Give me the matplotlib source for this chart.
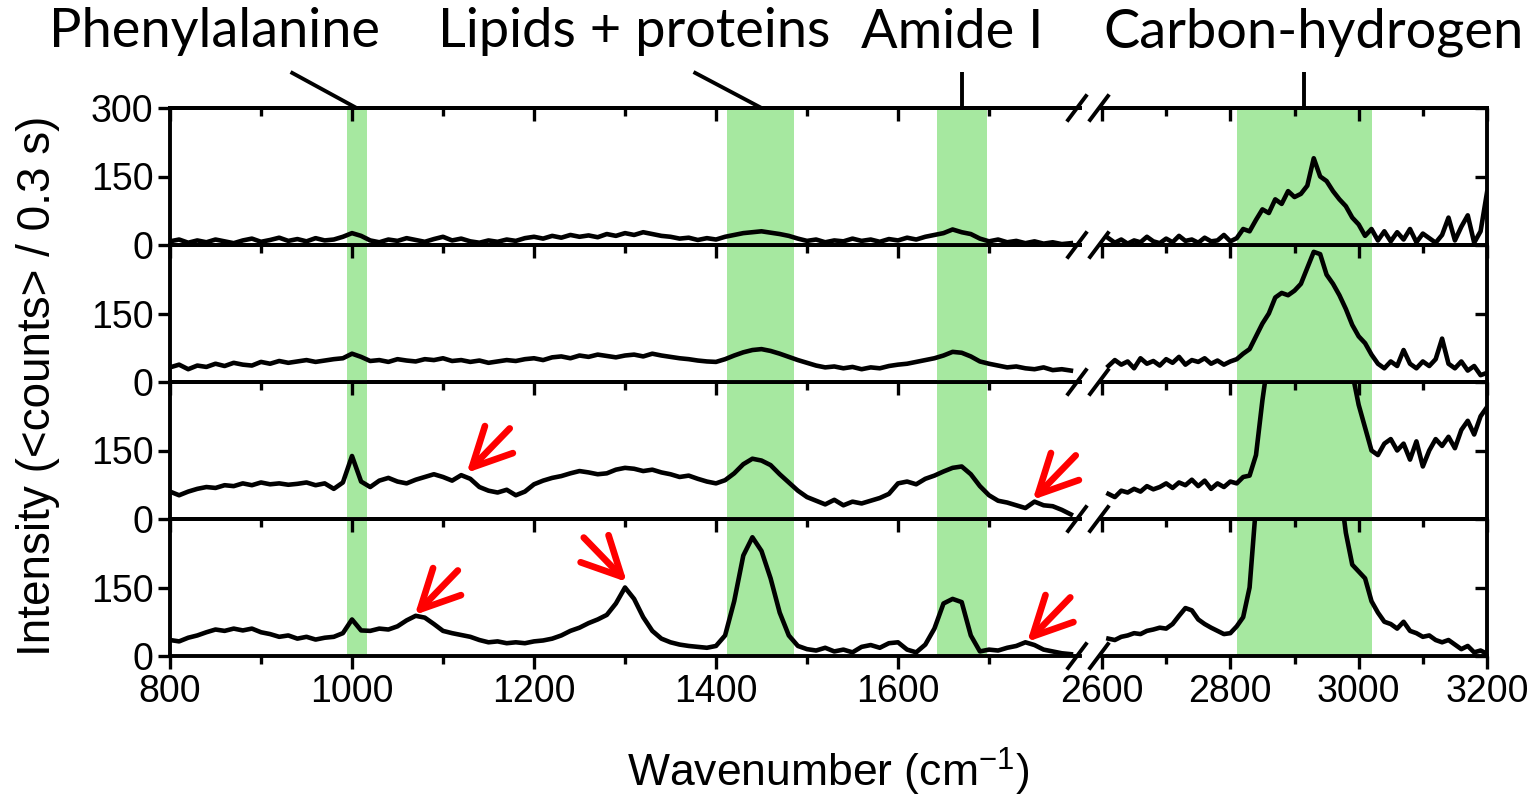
import numpy as np
import matplotlib.pyplot as plt
from matplotlib.lines import Line2D

plt.rcParams['font.family'] = 'Liberation Sans'
plt.rcParams['mathtext.fontset'] = 'custom'
plt.rcParams['mathtext.rm'] = 'Liberation Sans'
plt.rcParams['mathtext.default'] = 'regular'

# wavenumber grids (cm^-1), left and right of the axis break
wn_left = np.arange(800, 1800, 10)
wn_right = np.arange(2610, 3210, 10)

# spectra, top panel first (counts / 0.3 s)
p1_left = [8, 12, 5, 10, 6, 12, 8, 4, 10, 14,
           7, 11, 16, 9, 13, 8, 15, 10, 12, 18,
           26, 20, 10, 6, 12, 9, 15, 11, 7, 13,
           18, 10, 14, 8, 5, 10, 7, 12, 9, 15,
           18, 14, 20, 16, 22, 18, 21, 17, 24, 20,
           26, 22, 28, 24, 20, 18, 14, 16, 11, 15,
           12, 18, 22, 26, 28, 30, 27, 24, 20, 14,
           9, 12, 6, 10, 8, 14, 9, 12, 7, 13,
           10, 16, 12, 18, 22, 26, 34, 28, 24, 14,
           8, 12, 6, 9, 4, 8, 3, 6, 2, 4]
p1_right = [15, 5, 12, 3, 10, 6, 18, 8, 4, 14,
            6, 20, 9, 12, 5, 16, 8, 10, 22, 8,
            15, 35, 30, 55, 78, 70, 100, 90, 118, 105,
            112, 130, 190, 150, 140, 118, 100, 85, 60, 45,
            20, 35, 10, 30, 8, 28, 12, 35, 6, 25,
            15, 5, 22, 60, 10, 40, 65, 5, 30, 115]

p2_left = [32, 38, 28, 36, 33, 40, 35, 42, 38, 36,
           44, 40, 46, 42, 45, 48, 44, 47, 50, 52,
           62, 55, 46, 48, 44, 50, 47, 45, 50, 48,
           52, 46, 48, 44, 47, 42, 45, 48, 46, 50,
           52, 48, 54, 56, 52, 58, 55, 60, 57, 54,
           58, 60, 56, 62, 58, 55, 52, 50, 47, 45,
           44, 50, 58, 65, 70, 72, 68, 62, 55, 48,
           42, 36, 32, 34, 30, 33, 28, 32, 30, 35,
           38, 40, 44, 48, 52, 58, 66, 64, 56, 45,
           40, 36, 32, 34, 30, 28, 32, 26, 28, 25]
p2_right = [35, 48, 38, 45, 30, 52, 40, 46, 36, 50,
            42, 55, 38, 48, 44, 52, 40, 47, 38, 45,
            50, 62, 72, 100, 128, 150, 185, 195, 190, 200,
            215, 250, 285, 280, 235, 215, 190, 160, 125, 100,
            85, 60, 40, 30, 45, 35, 70, 40, 30, 45,
            35, 50, 95, 40, 30, 45, 25, 35, 15, 20]

p3_left = [60, 52, 60, 66, 70, 68, 74, 72, 78, 74,
           80, 76, 78, 75, 77, 80, 74, 78, 66, 80,
           138, 82, 70, 84, 90, 82, 78, 86, 92, 98,
           92, 84, 96, 88, 70, 62, 58, 64, 52, 60,
           76, 84, 90, 94, 100, 105, 102, 98, 100, 108,
           112, 110, 105, 108, 102, 98, 92, 95, 88, 82,
           78, 85, 100, 120, 132, 128, 118, 98, 80, 62,
           48, 40, 32, 42, 30, 38, 34, 40, 46, 55,
           78, 82, 76, 88, 95, 104, 112, 115, 98, 72,
           52, 40, 36, 30, 24, 38, 30, 28, 20, 10]
p3_right = [55, 48, 62, 58, 66, 60, 72, 65, 70, 78,
            68, 80, 74, 86, 72, 84, 66, 78, 70, 82,
            78, 92, 95, 140, 260, 360, 450, 520, 560, 600,
            640, 680, 700, 650, 600, 520, 440, 380, 320, 250,
            200, 150, 140, 165, 175, 150, 165, 130, 170, 115,
            150, 175, 160, 180, 155, 195, 215, 185, 225, 245]

p4_left = [35, 32, 40, 45, 52, 58, 55, 60, 56, 60,
           52, 48, 42, 45, 38, 42, 36, 40, 42, 50,
           80, 56, 55, 60, 58, 65, 78, 88, 84, 70,
           55, 50, 46, 42, 35, 30, 32, 28, 30, 28,
           32, 34, 38, 45, 55, 62, 72, 80, 90, 115,
           150, 125, 85, 55, 38, 30, 25, 22, 20, 18,
           22, 45, 120, 220, 260, 230, 170, 95, 45, 22,
           15, 12, 18, 10, 14, 8, 20, 24, 18, 28,
           30, 14, 8, 25, 60, 115, 125, 118, 45, 10,
           14, 12, 18, 22, 30, 24, 14, 10, 6, 4]
p4_right = [38, 35, 42, 45, 50, 48, 55, 58, 62, 60,
            70, 88, 105, 100, 80, 70, 62, 55, 48, 50,
            65, 85, 150, 330, 500, 620, 700, 740, 760, 780,
            790, 800, 790, 760, 650, 500, 380, 270, 200, 185,
            170, 120, 95, 75, 70, 60, 75, 55, 50, 42,
            45, 35, 30, 35, 25, 15, 22, 8, 12, 5]

spectra_left = [p1_left, p2_left, p3_left, p4_left]
spectra_right = [p1_right, p2_right, p3_right, p4_right]

# highlighted bands (cm^-1)
bands_left = [(995, 1016), (1412, 1486), (1643, 1698)]
bands_right = [(2810, 3020)]

# band names and the wavenumber each one points at
band_names = ['Phenylalanine', 'Lipids + proteins', 'Amide I', 'Carbon-hydrogen']
band_marks = [1005, 1450, 1670, 2915]

# red arrows: (panel, wavenumber, intensity, tail direction)
arrows = [(2, 1126, 101, 'ur'), (2, 1748, 42, 'ur'),
          (3, 1069, 90, 'ur'), (3, 1302, 162, 'ul'), (3, 1742, 31, 'ur')]

green = '#a6e8a0'
lw_axis = 2.8

W, H = 1540, 797
fig = plt.figure(figsize=(W / 100, H / 100), dpi=100)


def fx(px):
    return px / W


def fy(py):
    return 1 - py / H


left_x0, left_x1 = 170, 1080
right_x0, right_x1 = 1102, 1487
top_y, bot_y = 108, 656
ph = (bot_y - top_y) / 4

axes_left, axes_right = [], []
for i in range(4):
    y1 = top_y + (i + 1) * ph
    axL = fig.add_axes([fx(left_x0), fy(y1), (left_x1 - left_x0) / W, ph / H], zorder=10 - i)
    axR = fig.add_axes([fx(right_x0), fy(y1), (right_x1 - right_x0) / W, ph / H], zorder=10 - i)
    axes_left.append(axL)
    axes_right.append(axR)

    for ax in (axL, axR):
        ax.set_facecolor('none')
        ax.set_ylim(0, 300)
        for s in ax.spines.values():
            s.set_linewidth(lw_axis)
    axL.spines['right'].set_visible(False)
    axR.spines['left'].set_visible(False)

    axL.set_xlim(800, 1800)
    axR.set_xlim(2600, 3200)

    for a, b in bands_left:
        axL.axvspan(a, b, color=green, lw=0, zorder=0)
    for a, b in bands_right:
        axR.axvspan(a, b, color=green, lw=0, zorder=0)

    axL.plot(wn_left, spectra_left[i], color='k', lw=3.3, solid_joinstyle='round')
    axR.plot(wn_right, spectra_right[i], color='k', lw=3.3, solid_joinstyle='round')

    yt = [0, 150, 300] if i == 0 else [0, 150]
    axL.set_xticks([800, 1000, 1200, 1400, 1600])
    axL.set_xticks([900, 1100, 1300, 1500, 1700], minor=True)
    axR.set_xticks([2600, 2800, 3000, 3200])
    axR.set_xticks([2700, 2900, 3100], minor=True)
    for ax in (axL, axR):
        ax.tick_params(axis='x', which='both', direction='out', top=False,
                       bottom=True, width=2.4, labelbottom=(i == 3),
                       labelsize=27, pad=4)
        ax.tick_params(axis='x', which='major', length=9)
        ax.tick_params(axis='x', which='minor', length=5.5)
        ax.set_yticks(yt)
    axL.tick_params(axis='y', direction='out', left=True, right=False,
                    length=9, width=2.4, labelsize=27, pad=3)
    axR.tick_params(axis='y', direction='in', left=False, right=True,
                    labelleft=False, labelright=False, length=9, width=2.4)

    # ticks along the very top edge point down into the first panel
    if i == 0:
        for ax in (axL, axR):
            sec = ax.secondary_xaxis('top')
            sec.set_xticks(ax.get_xticks())
            sec.set_xticks(ax.get_xticks(minor=True), minor=True)
            sec.tick_params(axis='x', which='both', direction='in', width=2.4,
                            labeltop=False)
            sec.tick_params(axis='x', which='major', length=9)
            sec.tick_params(axis='x', which='minor', length=5.5)
            sec.spines['top'].set_linewidth(lw_axis)

# band name labels above the top panel, with leader lines
label_cx = [215, 634, 952, 1313]
lead_dx = [-66, -68, 0, 0]
lead_h = 36
for name, mark, cx, dx in zip(band_names, band_marks, label_cx, lead_dx):
    ax = axes_left[0] if mark < 2000 else axes_right[0]
    ppu = (left_x1 - left_x0) / 1000 if mark < 2000 else (right_x1 - right_x0) / 600
    ax.plot([mark + dx / ppu, mark], [300 + 300 * lead_h / ph, 300],
            color='k', lw=lw_axis, clip_on=False, solid_capstyle='butt')
    fig.text(fx(cx), fy(32), name, family='Lato', fontsize=39,
             ha='center', va='center')

# red arrows marking weak features
for panel, x, y, d in arrows:
    ox = 31 if d == 'ur' else -31
    axes_left[panel].annotate('', xy=(x, y), xytext=(ox, 32), textcoords='offset points',
                              arrowprops=dict(arrowstyle='->, head_length=2.8, head_width=1.4',
                                              color='red', lw=4.8, mutation_scale=10,
                                              shrinkA=0, shrinkB=0),
                              annotation_clip=False)

# axis break marks
for k in range(5):
    yb = top_y + k * ph
    for xc in (left_x1 - 3, right_x0 - 3):
        fig.add_artist(Line2D([fx(xc - 9), fx(xc + 9)], [fy(yb + 12), fy(yb - 12)],
                              color='k', lw=lw_axis, zorder=20))

fig.text(fx((left_x0 + right_x1) / 2), fy(772), 'Wavenumber (cm$^{-1}$)',
         ha='center', va='center', fontsize=32)
fig.text(fx(38), fy((top_y + bot_y) / 2 + 4), 'Intensity (<counts> / 0.3 s)',
         rotation=90, ha='center', va='center', fontsize=33)

fig.savefig('out.png', dpi=100)
